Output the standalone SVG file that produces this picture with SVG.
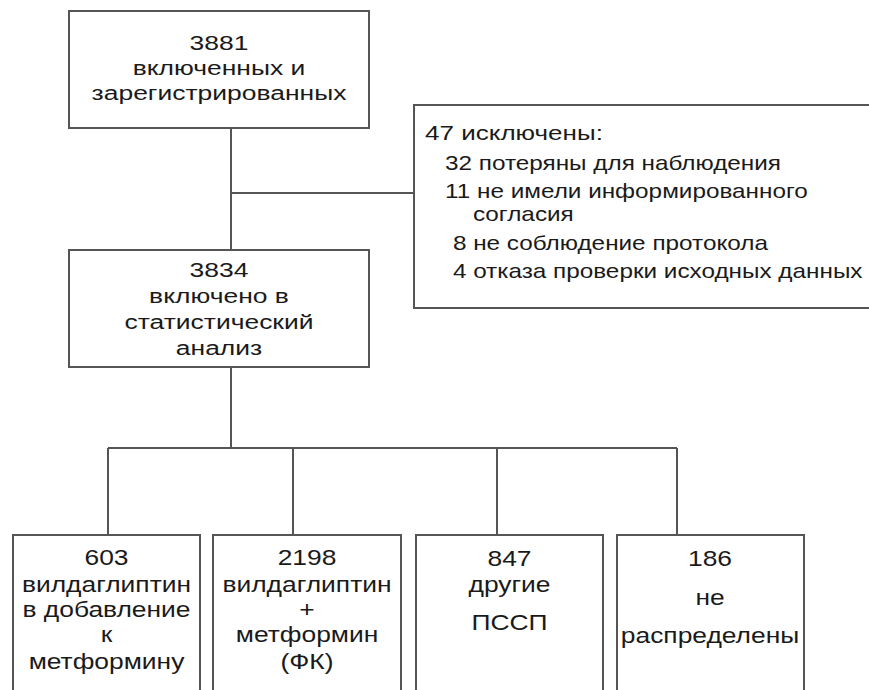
<svg xmlns="http://www.w3.org/2000/svg" width="869" height="690" viewBox="0 0 869 690">
<style>
.box{fill:#fff;stroke:#555;stroke-width:2}
.ln{fill:none;stroke:#555;stroke-width:2}
text{font-family:"Liberation Sans",Arial,sans-serif;fill:#1a1a1a;font-size:21px}
.c{text-anchor:middle}
.b{font-size:22px}
.s{font-size:20px}
</style>
<rect width="869" height="690" fill="#fff"/>
<g id="connectors">
<line class="ln" x1="231" y1="128" x2="231" y2="250"/>
<line class="ln" x1="231" y1="193" x2="414" y2="193"/>
<line class="ln" x1="231" y1="367" x2="231" y2="448"/>
<line class="ln" x1="108" y1="448" x2="677" y2="448"/>
<line class="ln" x1="108" y1="448" x2="108" y2="535"/>
<line class="ln" x1="293" y1="448" x2="293" y2="535"/>
<line class="ln" x1="497" y1="448" x2="497" y2="535"/>
<line class="ln" x1="677" y1="448" x2="677" y2="535"/>
</g>
<g id="n3881">
<rect class="box" x="69" y="11" width="300" height="117"/>
<g transform="translate(219 0) scale(1.26 1)">
<text class="c" x="0" y="50">3881</text>
<text class="c" x="0" y="75">включенных и</text>
<text class="c" x="0" y="100">зарегистрированных</text>
</g>
</g>
<g id="excluded">
<rect class="box" x="414" y="105" width="470" height="203"/>
<g transform="translate(425 0) scale(1.24 1)">
<text x="0" y="140">47 исключены:</text>
</g>
<g transform="translate(445 0) scale(1.215 1)">
<text class="s" x="0" y="170">32 потеряны для наблюдения</text>
<text class="s" x="0" y="198">11 не имели информированного</text>
<text class="s" x="23" y="221">согласия</text>
<text class="s" x="6.5" y="250">8 не соблюдение протокола</text>
<text class="s" x="6.5" y="278">4 отказа проверки исходных данных</text>
</g>
</g>
<g id="n3834">
<rect class="box" x="69" y="250" width="300" height="117"/>
<g transform="translate(219 0) scale(1.26 1)">
<text class="c" x="0" y="277">3834</text>
<text class="c" x="0" y="303">включено в</text>
<text class="c" x="0" y="329">статистический</text>
<text class="c" x="0" y="355">анализ</text>
</g>
</g>
<g id="n603">
<rect class="box" x="13" y="535" width="187" height="170"/>
<g transform="translate(106.5 0) scale(1.2 1)">
<text class="c b" x="0" y="565">603</text>
<text class="c b" x="0" y="592">вилдаглиптин</text>
<text class="c b" x="0" y="617">в добавление</text>
<text class="c b" x="0" y="642">к</text>
<text class="c b" x="0" y="669">метформину</text>
</g>
</g>
<g id="n2198">
<rect class="box" x="213" y="535" width="188" height="170"/>
<g transform="translate(307 0) scale(1.2 1)">
<text class="c b" x="0" y="565">2198</text>
<text class="c b" x="0" y="592">вилдаглиптин</text>
<text class="c b" x="0" y="617">+</text>
<text class="c b" x="0" y="642">метформин</text>
<text class="c b" x="0" y="669">(ФК)</text>
</g>
</g>
<g id="n847">
<rect class="box" x="416" y="535" width="187" height="170"/>
<g transform="translate(509.5 0) scale(1.2 1)">
<text class="c b" x="0" y="566">847</text>
<text class="c b" x="0" y="592">другие</text>
<text class="c b" x="0" y="630">ПССП</text>
</g>
</g>
<g id="n186">
<rect class="box" x="617" y="535" width="187" height="170"/>
<g transform="translate(710 0) scale(1.2 1)">
<text class="c b" x="0" y="566">186</text>
<text class="c b" x="0" y="605">не</text>
<text class="c b" x="0" y="643">распределены</text>
</g>
</g>
</svg>
